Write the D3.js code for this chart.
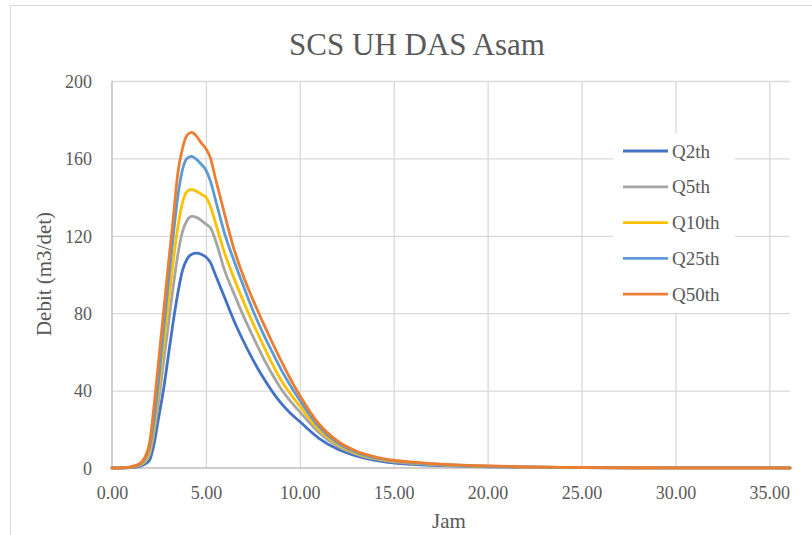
<!DOCTYPE html>
<html>
<head>
<meta charset="utf-8">
<script src="https://cdn.jsdelivr.net/npm/d3@7"></script>
<style>
html,body{margin:0;padding:0;background:#fff;}
svg text{font-family:"Liberation Serif" !important;}
</style>
</head>
<body>
<svg id="chart" width="812" height="535"></svg>
<script>
const title = "SCS UH DAS Asam";
const xTitle = "Jam";
const yTitle = "Debit (m3/det)";
const seriesNames = ["Q2th", "Q5th", "Q10th", "Q25th", "Q50th"];
const seriesColors = ["#4472C4", "#A5A5A5", "#FFC000", "#5B9BD5", "#ED7D31"];
const xTicks = [0, 5, 10, 15, 20, 25, 30, 35];
const yTicks = [0, 40, 80, 120, 160, 200];

const time = [0, 0.5, 1, 1.5, 1.75, 2, 2.25, 2.5, 2.75, 3, 3.25, 3.5, 3.75, 4, 4.25, 4.5, 4.75, 5, 5.25, 5.5, 6, 6.5, 7, 7.5, 8, 8.5, 9, 9.5, 10, 11, 12, 13, 14, 15, 16, 17, 18, 19, 20, 22, 24, 26, 28, 30, 32, 34, 36.1];

const q2 =  [0, 0, 0.2, 1.0, 2.0, 4, 13, 27, 41, 58, 75, 90, 102, 108, 110.5, 111, 110.5, 109, 106, 100, 88, 76, 65.5, 56, 47.5, 40, 33.5, 28.3, 24, 15.5, 9.8, 6.2, 4.0, 2.7, 1.9, 1.4, 1.05, 0.8, 0.6, 0.35, 0.2, 0.12, 0.07, 0.05, 0.03, 0.02, 0.01];
const q5 =  [0, 0, 0.3, 1.5, 3, 7, 19, 36, 55, 74, 93, 110, 122, 128, 130, 129.5, 128, 126, 124, 118, 102, 90, 78.5, 68, 58, 49, 41, 34.5, 29, 18.5, 11.3, 7.2, 4.7, 3.2, 2.4, 1.8, 1.35, 1.0, 0.75, 0.45, 0.26, 0.15, 0.09, 0.06, 0.04, 0.02, 0.015];
const q10 = [0, 0.05, 0.4, 1.8, 4, 9, 23, 42, 64, 85, 106, 124, 137, 143, 144, 143, 141.5, 140, 135, 127, 111, 98, 86, 75, 64.5, 54.5, 45.5, 38.3, 32, 20, 12.2, 7.7, 5.1, 3.5, 2.7, 2.0, 1.5, 1.1, 0.85, 0.5, 0.3, 0.17, 0.1, 0.07, 0.04, 0.03, 0.02];
const q25 = [0, 0.08, 0.5, 2.1, 4.7, 11, 26, 47, 72, 96, 119, 140, 154, 160, 161, 159.5, 157, 154, 148, 139, 121, 107, 94, 81.5, 70.5, 60.5, 51, 42.5, 35, 21.5, 13, 8.2, 5.4, 3.8, 2.8, 2.1, 1.6, 1.2, 0.9, 0.55, 0.32, 0.19, 0.11, 0.07, 0.05, 0.03, 0.02];
const q50 = [0, 0.1, 0.6, 2.4, 5.5, 13, 33, 57, 81, 105, 128, 152, 165, 172, 173.5, 171.5, 168, 165, 160, 150, 131, 113, 99, 87, 76, 65.5, 55.5, 46, 37.5, 23, 14, 8.8, 5.8, 4.0, 3.0, 2.3, 1.75, 1.35, 1.05, 0.62, 0.36, 0.21, 0.12, 0.08, 0.05, 0.03, 0.02];

const seriesValues = [q2, q5, q10, q25, q50];

const FONT = '"Liberation Serif"';
const TXT = "#595959";
const svg = d3.select("#chart");
const plot = {left: 112, right: 790, top: 81, bottom: 468};

// chart outer border (cropped)
svg.append("rect").attr("x", 10.5).attr("y", 5.5).attr("width", 830).attr("height", 560)
  .attr("fill", "#fff").attr("stroke", "#d9d9d9").attr("stroke-width", 1);

const x = d3.scaleLinear().domain([0, 36.1]).range([plot.left, plot.right]);
const y = d3.scaleLinear().domain([0, 200]).range([plot.bottom, plot.top]);

// gridlines
const gx = svg.append("g").attr("transform", `translate(0,${plot.bottom})`)
  .call(d3.axisBottom(x).tickValues(xTicks.slice(1)).tickSize(-(plot.bottom - plot.top)).tickFormat(""));
gx.select(".domain").remove();
gx.selectAll("line").attr("stroke", "#d9d9d9").attr("stroke-width", 1.3);

const gy = svg.append("g").attr("transform", `translate(${plot.left},0)`)
  .call(d3.axisLeft(y).tickValues(yTicks.slice(1)).tickSize(-(plot.right - plot.left)).tickFormat(""));
gy.select(".domain").remove();
gy.selectAll("line").attr("stroke", "#d9d9d9").attr("stroke-width", 1.3);

// axis lines
svg.append("line").attr("x1", plot.left).attr("x2", plot.left).attr("y1", plot.top).attr("y2", plot.bottom)
  .attr("stroke", "#bfbfbf").attr("stroke-width", 1.5);
svg.append("line").attr("x1", plot.left).attr("x2", plot.right).attr("y1", plot.bottom).attr("y2", plot.bottom)
  .attr("stroke", "#bfbfbf").attr("stroke-width", 1.5);

// tick labels
const xl = svg.append("g").attr("transform", `translate(0,${plot.bottom})`)
  .call(d3.axisBottom(x).tickValues(xTicks).tickSize(0).tickPadding(0).tickFormat(d3.format(".2f")));
xl.select(".domain").remove();
xl.attr("font-family", FONT).attr("font-size", 18);
xl.selectAll("text").attr("y", 31).attr("dy", null).attr("fill", TXT).style("font-family", FONT);

const yl = svg.append("g").attr("transform", `translate(${plot.left},0)`)
  .call(d3.axisLeft(y).tickValues(yTicks).tickSize(0).tickPadding(0).tickFormat(d3.format("d")));
yl.select(".domain").remove();
yl.attr("font-family", FONT).attr("font-size", 18);
yl.selectAll("text").attr("x", -20).attr("dy", "0.35em").attr("fill", TXT).style("font-family", FONT);

// lines
const line = d3.line().x(d => x(d[0])).y(d => y(d[1])).curve(d3.curveMonotoneX);
seriesValues.forEach((vals, i) => {
  const pts = time.map((t, j) => [t, vals[j]]);
  svg.append("path").datum(pts).attr("d", line)
    .attr("fill", "none").attr("stroke", seriesColors[i]).attr("stroke-width", 2.8)
    .attr("stroke-linejoin", "round").attr("stroke-linecap", "round");
});

// title
svg.append("text").attr("x", 417).attr("y", 55).attr("text-anchor", "middle")
  .attr("font-family", FONT).style("font-family", FONT).attr("fill", TXT).attr("font-size", 31).text(title);

// axis titles
svg.append("text").attr("x", 449).attr("y", 528).attr("text-anchor", "middle")
  .attr("font-family", FONT).style("font-family", FONT).attr("fill", TXT).attr("font-size", 21).text(xTitle);
svg.append("text").attr("transform", "translate(44,274) rotate(-90)").attr("dy", "0.35em")
  .attr("text-anchor", "middle").attr("font-family", FONT).style("font-family", FONT).attr("fill", TXT)
  .attr("font-size", 21).text(yTitle);

// legend
const lg = svg.append("g");
lg.append("rect").attr("x", 613).attr("y", 133).attr("width", 122).attr("height", 180).attr("fill", "#fff");
seriesNames.forEach((n, i) => {
  const yy = 151 + i * 35.8;
  lg.append("line").attr("x1", 623).attr("x2", 668).attr("y1", yy).attr("y2", yy)
    .attr("stroke", seriesColors[i]).attr("stroke-width", 2.8);
  lg.append("text").attr("x", 672).attr("y", yy).attr("dy", "0.35em")
    .attr("font-family", FONT).style("font-family", FONT).attr("fill", TXT).attr("font-size", 19).text(n);
});
</script>
</body>
</html>
